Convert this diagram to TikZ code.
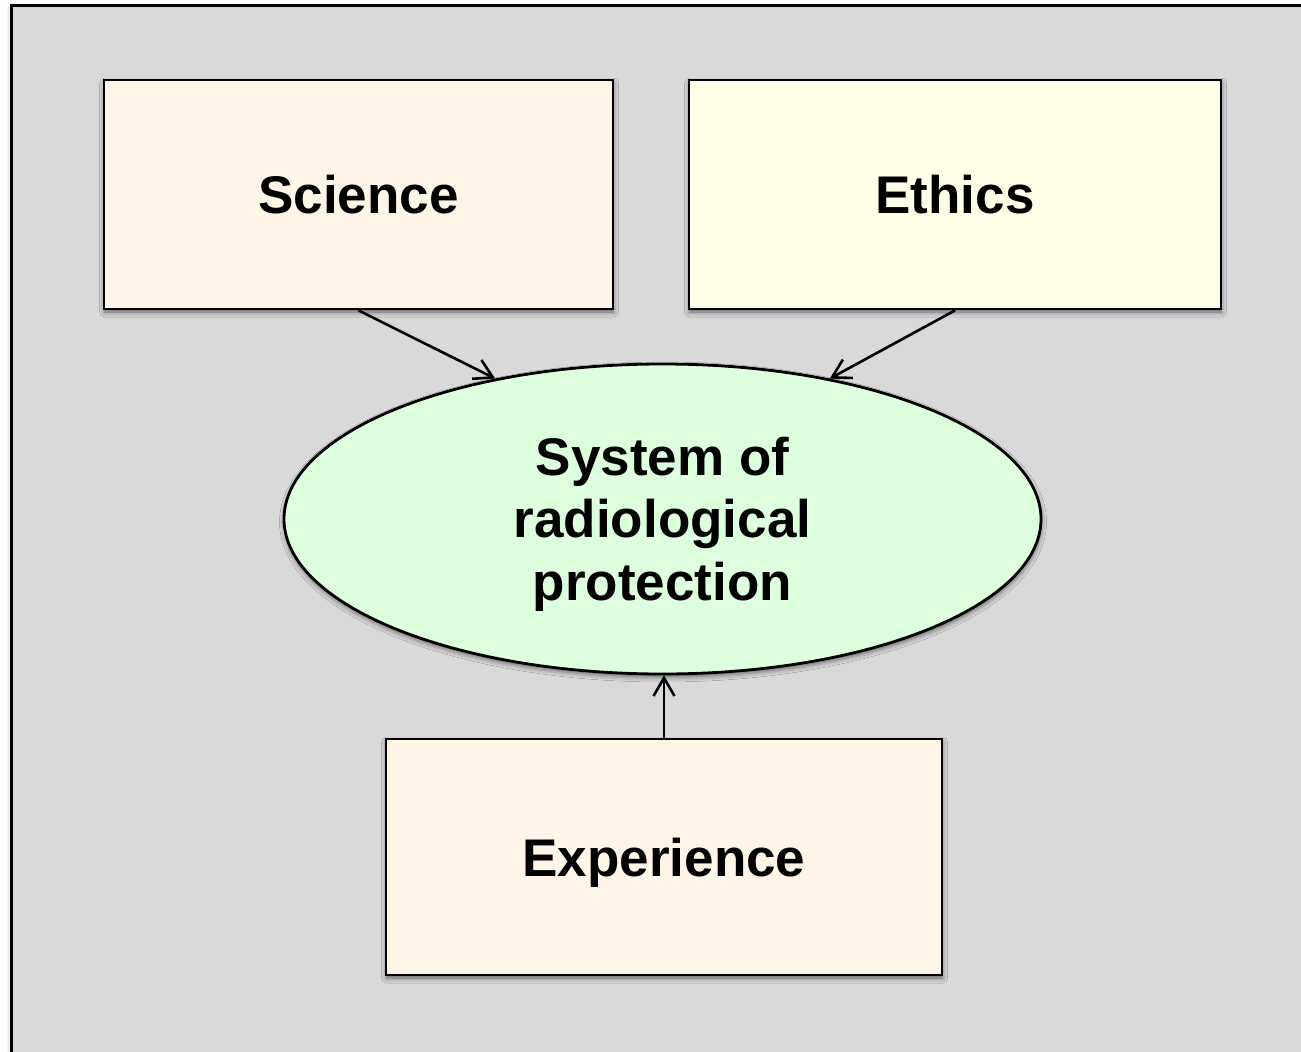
\documentclass[tikz,border=0pt]{standalone}
\usepackage{fontspec}
\setmainfont{Liberation Sans}
\usetikzlibrary{arrows.meta,shapes.geometric,shadows.blur}
\definecolor{bgframe}{HTML}{D9D9D9}
\definecolor{cream}{HTML}{FFF5E7}
\definecolor{paleyellow}{HTML}{FFFFE8}
\definecolor{palegreen}{HTML}{DEFFDE}
\tikzset{
  shade/.style={blur shadow={shadow xshift=0.5pt, shadow yshift=-3pt, shadow blur radius=5pt, shadow opacity=55}},
  lbl/.style={font=\fontsize{53}{62.5}\selectfont\bfseries, align=center},
  box/.style={draw=black, line width=2.8pt, rectangle, inner sep=0pt, shade, lbl,
    text height=38pt, text depth=0pt},
  oval/.style={draw=black, line width=2.8pt, ellipse, inner sep=0pt, shade},
  conn/.style={line width=2.6pt, -{Straight Barb[length=18pt,width=21pt,line width=2.6pt]}},
}
\begin{document}
\begin{tikzpicture}[x=1pt,y=-1pt]
\useasboundingbox (0,0) rectangle (1301,1052);
\clip (0,0) rectangle (1301,1052);
\draw[fill=bgframe, line width=2.8pt,
  blur shadow={shadow xshift=-2pt, shadow yshift=-2pt, shadow blur radius=3pt, shadow opacity=20}]
  (11.5,5.5) rectangle (1330,1080);
\node[box, fill=cream, minimum width=509pt, minimum height=229pt] (sci) at (358.5,194.5) {Science};
\node[box, fill=paleyellow, minimum width=532pt, minimum height=229pt] (eth) at (955,194.5) {Ethics};
\node[oval, fill=palegreen, minimum width=757pt, minimum height=310pt] (sys) at (662.5,519) {};
\node[lbl] (systext) at ([yshift=-5pt]sys.center) {System of\\radiological\\protection};
\node[box, fill=cream, minimum width=556pt, minimum height=236pt] (exp) at (664,857) {Experience};
\draw[conn] (sci.south) -- (sys.140);
\draw[conn] (eth.south) -- (sys.40);
\draw[conn] (exp.north) -- (exp.north |- sys.south);
\end{tikzpicture}
\end{document}
